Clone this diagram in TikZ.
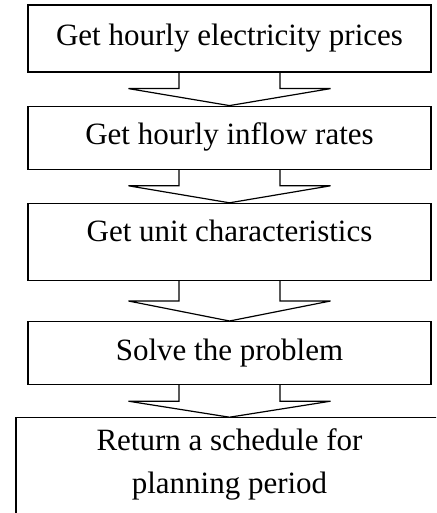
\documentclass[tikz,border=0pt]{standalone}
\usepackage{fontspec}
\setmainfont{Liberation Serif}
\usetikzlibrary{positioning,calc}

\begin{document}
\begin{tikzpicture}[x=1pt, y=1pt, line width=1.2pt,
	stepbox/.style = {draw, rectangle, minimum width=403pt, inner sep=3pt,
		font=\fontsize{31}{43}\selectfont, text height=22pt, text depth=7.5pt, align=center},
	blockarrow/.style = {draw, line join=miter}]
	\useasboundingbox (0,0) rectangle (436,-513);
	\clip (0,0) rectangle (436,-513);
	\node[stepbox, minimum height=67pt] (prices) at (229.5,-38.5) {Get hourly electricity prices};
	\node[stepbox, minimum height=63pt] (inflow) [below=33pt of prices] {Get hourly inflow rates};
	\node[stepbox, minimum height=77pt, text depth=22pt] (units) [below=33pt of inflow] {Get unit characteristics};
	\node[stepbox, minimum height=63pt] (solve) [below=40pt of units] {Solve the problem};
	\node[stepbox, minimum width=427pt, minimum height=130pt, text depth=0pt] (schedule) [below=32pt of solve] {Return a schedule for\\planning period};
	\draw[blockarrow] ($(prices.south)+(-50.5,0)$) |- ($(inflow.north)+(-101,17)$) -- (inflow.north) -- ++(101,17) -| ($(prices.south)+(50.5,0)$);
	\draw[blockarrow] ($(inflow.south)+(-50.5,0)$) |- ($(units.north)+(-101,17)$) -- (units.north) -- ++(101,17) -| ($(inflow.south)+(50.5,0)$);
	\draw[blockarrow] ($(units.south)+(-50.5,0)$) |- ($(solve.north)+(-101,20)$) -- (solve.north) -- ++(101,20) -| ($(units.south)+(50.5,0)$);
	\draw[blockarrow] ($(solve.south)+(-50.5,0)$) |- ($(schedule.north)+(-101,16)$) -- (schedule.north) -- ++(101,16) -| ($(solve.south)+(50.5,0)$);
	
	%\caption{Scheduling steps}
\end{tikzpicture}
\end{document}
